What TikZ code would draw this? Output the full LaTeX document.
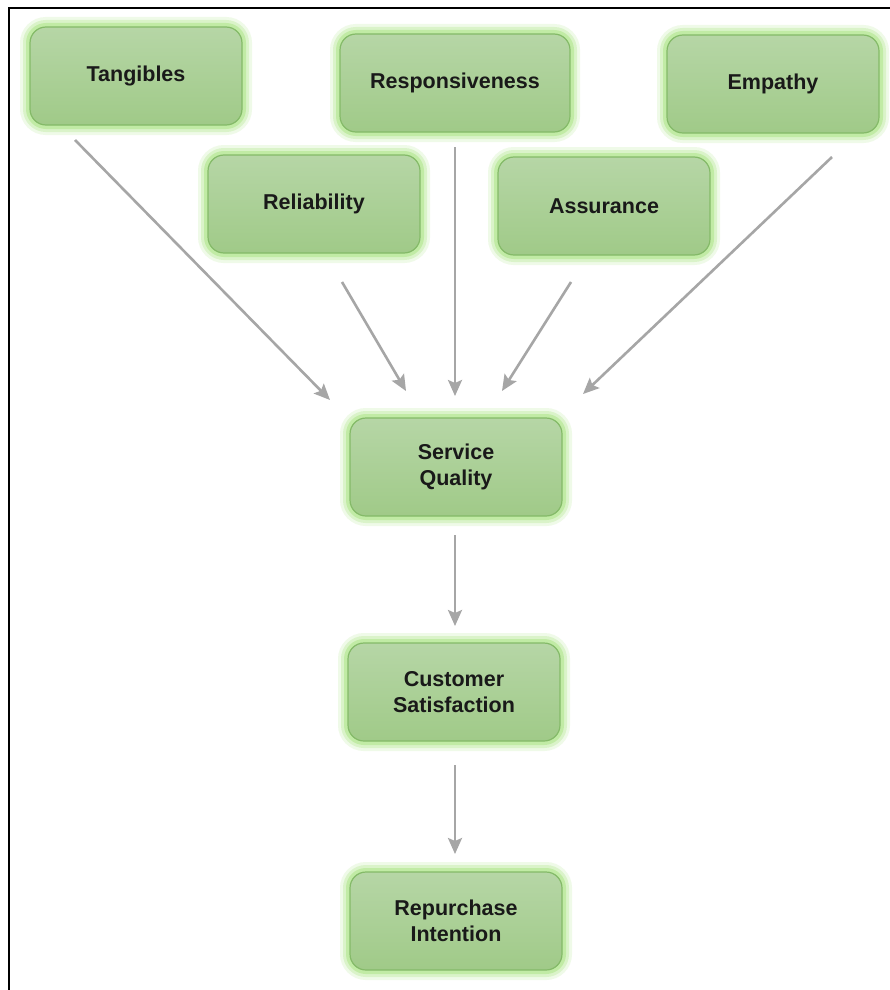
\documentclass[tikz,border=0pt]{standalone}
\usepackage{fontspec}
\setmainfont{Liberation Sans}
\usetikzlibrary{arrows.meta}
\definecolor{glowc}{RGB}{170,228,130}
\definecolor{boxtop}{RGB}{182,214,166}
\definecolor{boxbot}{RGB}{160,202,136}
\definecolor{boxline}{RGB}{132,186,104}
\definecolor{arrowc}{RGB}{166,166,166}
\tikzset{
  gbox/.style={rectangle, rounded corners=16pt, minimum width=212pt, minimum height=98pt,
    align=center, font=\fontsize{21.5}{26}\selectfont\bfseries, text=black!90,
    top color=boxtop, bottom color=boxbot, draw=boxline, line width=1.2pt,
    preaction={draw=glowc, line width=20pt, opacity=0.18},
    preaction={draw=glowc, line width=14pt, opacity=0.3},
    preaction={draw=glowc, line width=8pt, opacity=0.5}},
  garrow/.style={draw=arrowc, line width=2.6pt, -{Stealth[length=16pt,width=14pt,inset=3pt]}}
}
\begin{document}
\begin{tikzpicture}[x=1pt,y=-1pt]
\useasboundingbox (0,0) rectangle (890,990);
\fill[white] (0,0) rectangle (890,990);
\draw[black, line width=2.2pt] (9,990) -- (9,8) -- (890,8);

\node[gbox] (tan) at (136,76) {Tangibles};
\node[gbox, minimum width=230pt] (res) at (455,83) {Responsiveness};
\node[gbox] (emp) at (773,84) {Empathy};
\node[gbox] (rel) at (314,204) {Reliability};
\node[gbox] (ass) at (604,206) {Assurance};
\node[gbox] (sq) at (456,467) {Service\\Quality};
\node[gbox] (cs) at (454,692) {Customer\\Satisfaction};
\node[gbox] (ri) at (456,921) {Repurchase\\Intention};

\coordinate (tanS) at (75,140);   \coordinate (tanE) at (330,400);
\coordinate (relS) at (342,282);  \coordinate (relE) at (406,391);
\coordinate (resS) at (455,147);  \coordinate (resE) at (455,396);
\coordinate (assS) at (571,282);  \coordinate (assE) at (502,391);
\coordinate (empS) at (832,157);  \coordinate (empE) at (583,394);
\coordinate (sqS) at (455,535);   \coordinate (sqE) at (455,626);
\coordinate (csS) at (455,765);   \coordinate (csE) at (455,854);

\draw[garrow] (tanS) -- (tanE);
\draw[garrow] (relS) -- (relE);
\draw[garrow] (resS) -- (resE);
\draw[garrow] (assS) -- (assE);
\draw[garrow] (empS) -- (empE);
\draw[garrow] (sqS) -- (sqE);
\draw[garrow] (csS) -- (csE);
\end{tikzpicture}
\end{document}
